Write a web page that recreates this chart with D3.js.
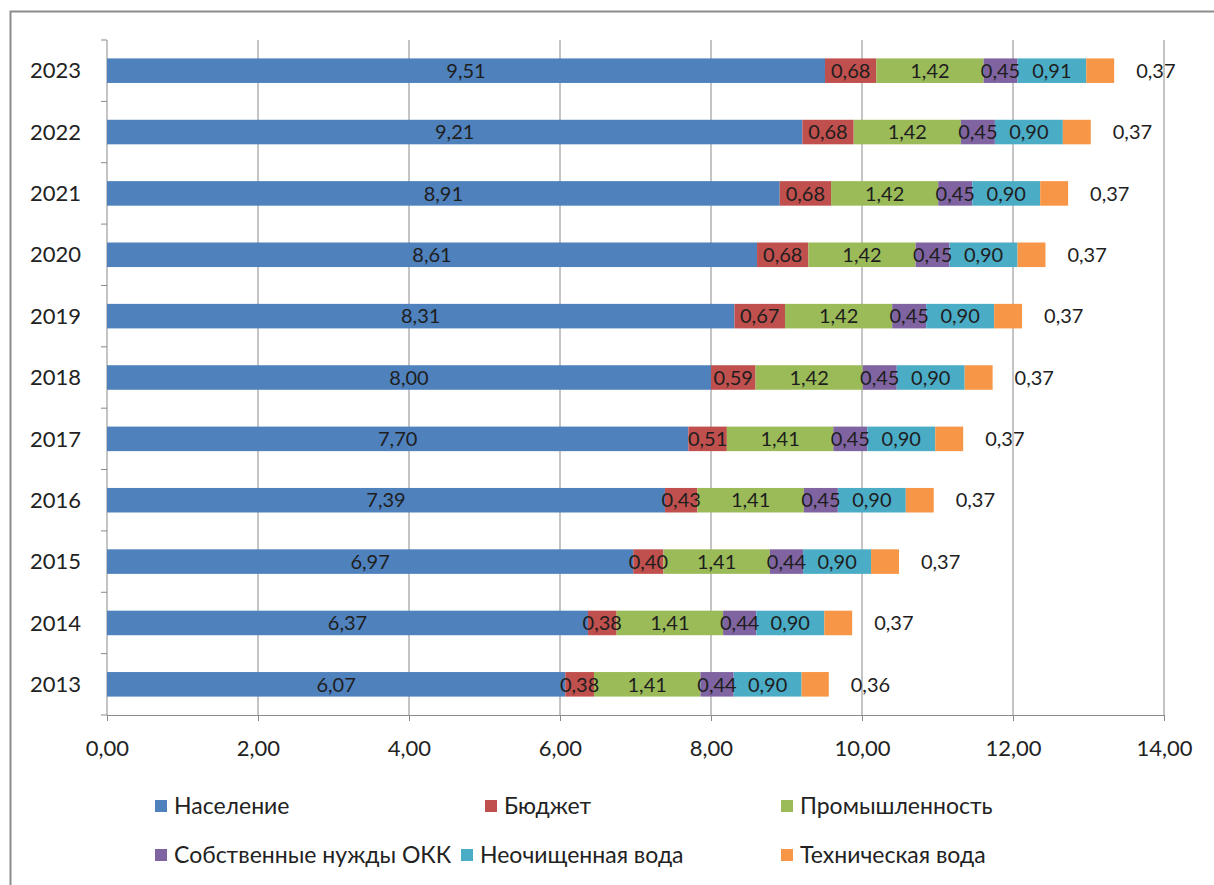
<!DOCTYPE html>
<html>
<head>
<meta charset="utf-8">
<script src="https://cdn.jsdelivr.net/npm/d3@7"></script>
<style>
  body { margin: 0; background: #fff; }
  svg { font-family: Lato, "Open Sans", sans-serif; }
</style>
</head>
<body>
<div id="chart"></div>
<script>
// values, one array per series
const years = ['2013','2014','2015','2016','2017','2018','2019','2020','2021','2022','2023'];
const naselenie = [6.07, 6.37, 6.97, 7.39, 7.70, 8.00, 8.31, 8.61, 8.91, 9.21, 9.51];
const budget    = [0.38, 0.38, 0.40, 0.43, 0.51, 0.59, 0.67, 0.68, 0.68, 0.68, 0.68];
const prom      = [1.41, 1.41, 1.41, 1.41, 1.41, 1.42, 1.42, 1.42, 1.42, 1.42, 1.42];
const sobstv    = [0.44, 0.44, 0.44, 0.45, 0.45, 0.45, 0.45, 0.45, 0.45, 0.45, 0.45];
const neochisch = [0.90, 0.90, 0.90, 0.90, 0.90, 0.90, 0.90, 0.90, 0.90, 0.90, 0.91];
const tech      = [0.36, 0.37, 0.37, 0.37, 0.37, 0.37, 0.37, 0.37, 0.37, 0.37, 0.37];
const xTicks = [0, 2, 4, 6, 8, 10, 12, 14];

const seriesNames = ['Население','Бюджет','Промышленность','Собственные нужды ОКК','Неочищенная вода','Техническая вода'];
const seriesVals = [naselenie, budget, prom, sobstv, neochisch, tech];
const colors = ['#4f81bd','#c0504d','#9bbb59','#8064a2','#4bacc6','#f79646'];

const W = 1214, H = 885;
const m = {left: 107, right: 50, top: 40, bottom: 170};

const svg = d3.select('#chart').append('svg')
  .attr('width', W)
  .attr('height', H);

// chart frame (only top and left edges are in the shot)
svg.append('rect').attr('x', 10.5).attr('y', 11.5).attr('width', 1300).attr('height', 1000)
  .style('fill', 'none').style('stroke', '#8c8c8c').style('stroke-width', 2);

const x = d3.scaleLinear().domain([0, 14]).range([m.left, W - m.right]);
const y = d3.scaleBand().domain(years.slice().reverse()).range([m.top, H - m.bottom]).paddingInner(0.6).paddingOuter(0.3);

const fmt = v => d3.format('.2f')(v).replace('.', ',');

// gridlines
svg.append('g').selectAll('line').data(xTicks.slice(1)).join('line')
  .attr('x1', d => x(d)).attr('x2', d => x(d))
  .attr('y1', m.top).attr('y2', H - m.bottom)
  .style('stroke', '#8a8a8a').style('stroke-width', 1);

// x axis
const xAxis = svg.append('g')
  .attr('transform', `translate(0,${H - m.bottom})`)
  .call(d3.axisBottom(x).tickValues(xTicks).tickFormat(fmt).tickSize(6).tickPadding(19));
xAxis.select('.domain').style('stroke', '#8a8a8a');
xAxis.selectAll('.tick line').style('stroke', '#8a8a8a');
xAxis.selectAll('text').style('font-size', '22px').style('fill', '#222').style('font-family', 'Lato, sans-serif');

// y axis: line plus ticks at category boundaries
const step = y.step();
const yAxisG = svg.append('g');
yAxisG.append('line').attr('x1', m.left).attr('x2', m.left).attr('y1', m.top).attr('y2', H - m.bottom)
  .style('stroke', '#8a8a8a');
yAxisG.selectAll('line.tk').data(d3.range(years.length + 1)).join('line').attr('class', 'tk')
  .attr('x1', m.left - 6).attr('x2', m.left)
  .attr('y1', i => m.top + i * step).attr('y2', i => m.top + i * step)
  .style('stroke', '#8a8a8a');
yAxisG.selectAll('text').data(years).join('text')
  .attr('x', m.left - 26).attr('y', d => y(d) + y.bandwidth() / 2)
  .attr('text-anchor', 'end').attr('dy', '0.35em')
  .style('font-size', '22px').style('fill', '#222')
  .text(d => d);

// stacked data
const rows = years.map((yr, i) => {
  const r = {year: yr};
  seriesNames.forEach((s, k) => r[s] = seriesVals[k][i]);
  return r;
});
const stack = d3.stack().keys(seriesNames)(rows);

const layers = svg.append('g').selectAll('g').data(stack).join('g')
  .style('fill', (d, k) => colors[k]);
layers.selectAll('rect').data(d => d).join('rect')
  .attr('x', d => x(d[0]))
  .attr('width', d => x(d[1]) - x(d[0]))
  .attr('y', d => y(d.data.year))
  .attr('height', y.bandwidth());

// labels
const labels = svg.append('g');
stack.forEach((layer, k) => {
  labels.selectAll(null).data(layer).join('text')
    .attr('x', d => k === seriesNames.length - 1 ? x(d[1]) + 22 : (x(d[0]) + x(d[1])) / 2)
    .attr('y', d => y(d.data.year) + y.bandwidth() / 2)
    .attr('dy', '0.36em')
    .attr('text-anchor', k === seriesNames.length - 1 ? 'start' : 'middle')
    .style('font-size', '20px')
    .style('fill', '#1e1e1e')
    .text(d => fmt(d[1] - d[0]));
});

// legend
const legendPos = [[155, 806], [485, 806], [781, 806], [155, 855], [461, 855], [781, 855]];
const legend = svg.append('g').selectAll('g').data(seriesNames).join('g')
  .attr('transform', (d, i) => `translate(${legendPos[i][0]},${legendPos[i][1]})`);
legend.append('rect').attr('x', 0).attr('y', -6).attr('width', 12).attr('height', 12)
  .style('fill', (d, i) => colors[i]);
legend.append('text').attr('x', 19).attr('dy', '0.35em')
  .style('font-size', '23px').style('fill', '#222')
  .text(d => d);
</script>
</body>
</html>
